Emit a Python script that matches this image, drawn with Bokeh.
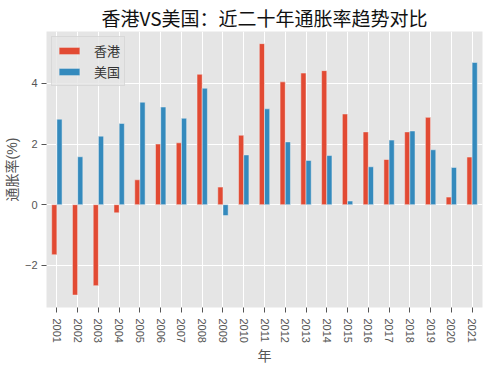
from bokeh.plotting import figure
from bokeh.models import ColumnDataSource, Range1d, FixedTicker, Legend, LegendItem
from bokeh.transform import dodge
from bokeh.embed import file_html
from bokeh.resources import INLINE

years = ["2001", "2002", "2003", "2004", "2005", "2006", "2007", "2008", "2009", "2010",
         "2011", "2012", "2013", "2014", "2015", "2016", "2017", "2018", "2019", "2020", "2021"]
hk = [-1.65, -2.98, -2.67, -0.27, 0.82, 2.00, 2.04, 4.30, 0.58, 2.29,
      5.31, 4.05, 4.34, 4.42, 2.99, 2.40, 1.49, 2.40, 2.88, 0.25, 1.57]
us = [2.82, 1.58, 2.26, 2.68, 3.38, 3.22, 2.85, 3.84, -0.36, 1.64,
      3.16, 2.07, 1.46, 1.62, 0.12, 1.25, 2.13, 2.43, 1.81, 1.23, 4.69]
x_title = "年"
y_title = "通胀率(%)"

FONT = "Noto Sans CJK SC"
# Latin font first (tighter line metrics for layout), CJK glyphs fall back to Noto Sans CJK SC
MIX = "Liberation Sans, Noto Sans CJK SC"
pos = list(range(len(years)))
src = ColumnDataSource(dict(x=pos, hk=hk, us=us))

p = figure(width=484, height=366, output_backend="svg", toolbar_location=None,
           x_range=Range1d(-0.5, len(years) - 0.5), y_range=Range1d(-3.39, 5.71),
           min_border_left=44, min_border_right=2, min_border_top=25, min_border_bottom=57)
p.background_fill_color = "#E5E5E5"
p.border_fill_color = "white"
p.outline_line_color = None

r_hk = p.vbar(x=dodge("x", -0.125), top="hk", width=0.25, source=src,
              fill_color="#E24A33", line_color="#EEEEEE", line_width=0.5)
r_us = p.vbar(x=dodge("x", 0.125), top="us", width=0.25, source=src,
              fill_color="#348ABD", line_color="#EEEEEE", line_width=0.5)

p.title.text = "香港VS美国：近二十年通胀率趋势对比"
p.title.align = "center"
p.title.text_font = FONT
p.title.text_font_size = "19px"
p.title.text_font_style = "normal"
p.title.text_color = "#111111"
p.title.standoff = 2
p.title.text_line_height = 1.0

xt = FixedTicker(ticks=pos)
p.xaxis.ticker = xt
p.xaxis.major_label_overrides = {i: y for i, y in zip(pos, years)}
p.xaxis.major_label_orientation = "vertical"
p.xaxis.axis_label = x_title
yt = FixedTicker(ticks=[-2, 0, 2, 4])
p.yaxis.ticker = yt
p.yaxis.major_label_overrides = {-2: "−2", 0: "0", 2: "2", 4: "4"}
p.yaxis.axis_label = y_title

for ax in (p.xaxis[0], p.yaxis[0]):
    ax.axis_line_color = None
    ax.major_tick_line_color = "#555555"
    ax.major_tick_in = 0
    ax.major_tick_out = 5
    ax.minor_tick_line_color = None
    ax.major_label_text_font = "Liberation Sans"
    ax.major_label_text_font_size = "11px"
    ax.major_label_text_color = "#555555"
    ax.axis_label_text_font = MIX
    ax.axis_label_text_font_size = "14px"
    ax.axis_label_text_font_style = "normal"
    ax.axis_label_text_color = "#555555"
    ax.axis_label_text_line_height = 1.0
    ax.axis_label_standoff = 2
p.xaxis.major_label_standoff = 6
p.yaxis.major_label_standoff = 4

p.xgrid.ticker = xt
p.ygrid.ticker = yt
p.grid.grid_line_color = "white"
p.grid.grid_line_width = 1

legend = Legend(items=[LegendItem(label="香港", renderers=[r_hk]),
                       LegendItem(label="美国", renderers=[r_us])],
                location="top_left", margin=5, padding=4, spacing=2,
                glyph_width=26, glyph_height=9, label_height=16, label_standoff=12,
                label_text_font=FONT, label_text_font_size="13px", label_text_color="#333333",
                label_text_line_height=1.0,
                background_fill_color="#E5E5E5", background_fill_alpha=0.8,
                border_line_color="#CCCCCC", border_line_width=1)
p.add_layout(legend)

open("out.html", "w").write(file_html(p, INLINE))
